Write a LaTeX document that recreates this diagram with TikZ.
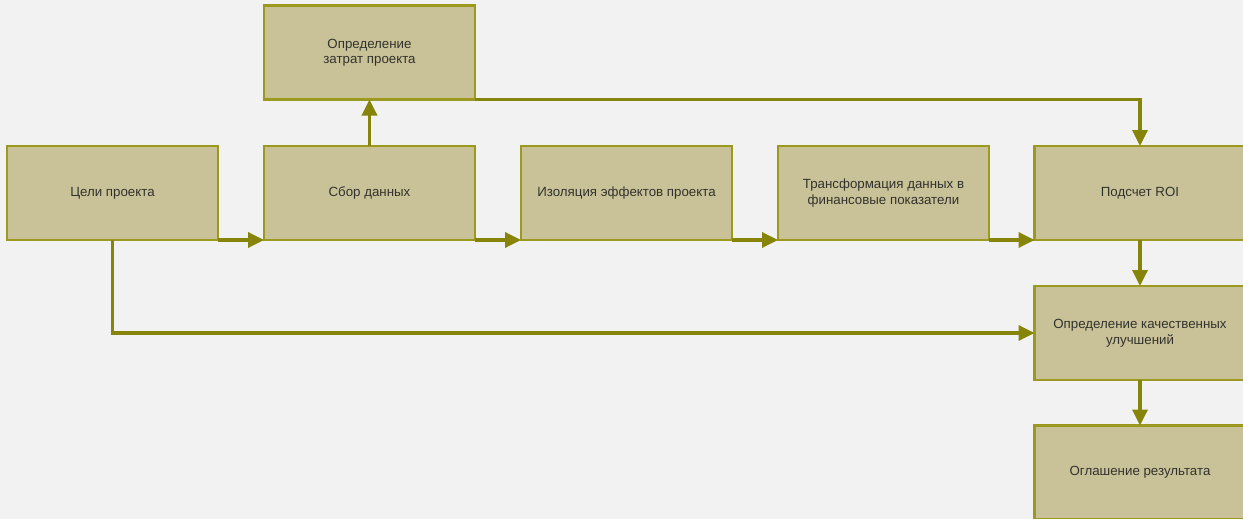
\documentclass[tikz,border=0pt]{standalone}
\usepackage{fontspec}
\setmainfont{Liberation Sans}
\usepackage{tikz}
\usetikzlibrary{arrows.meta}
\definecolor{boxfill}{RGB}{201,194,152}
\definecolor{boxline}{RGB}{155,153,30}
\definecolor{arrline}{RGB}{135,132,10}
\definecolor{bgcol}{RGB}{242,242,242}
\definecolor{txtcol}{RGB}{50,50,45}

\begin{document}
\begin{tikzpicture}[x=1pt,y=-1pt,
	stage/.style={draw=boxline,fill=boxfill,line width=2.8pt,minimum width=211pt,minimum height=94pt,outer sep=0pt,inner sep=2pt,align=center,text=txtcol,font=\fontsize{13.3}{15.5}\selectfont},
	flow/.style={draw=arrline,line width=3.4pt,-{Triangle[length=16pt,width=15pt]}}]
		%%Location
		\useasboundingbox (0,0) rectangle (1243,519);
		\fill[bgcol] (0,0) rectangle (1243,519);
		%%Boxes
		\node[stage] (goals) at (112.5,193) {Цели проекта};
		\node[stage] (collect) at (369.5,193) {Сбор данных};
		\node[stage] (costs) at (369.5,52.5) {Определение\\затрат проекта};
		\node[stage] (isolate) at (626.5,193) {Изоляция эффектов проекта};
		\node[stage] (convert) at (883.5,193) {Трансформация данных в\\финансовые показатели};
		\node[stage] (roi) at (1140,193) {Подсчет ROI};
		\node[stage] (quality) at (1140,333) {Определение качественных\\улучшений};
		\node[stage] (report) at (1140,472.5) {Оглашение результата};
		
		%%Arrows
		\draw[flow] (goals.south east) -- (collect.south west);
		\draw[flow] (collect.south east) -- (isolate.south west);
		\draw[flow] (isolate.south east) -- (convert.south west);
		\draw[flow] (convert.south east) -- (roi.south west);
		\draw[flow] (collect.north) -- (costs.south);
		\draw[flow] (costs.south east) -| (roi.north);
		\draw[flow] (goals.south) |- (quality.west);
		\draw[flow] (roi.south) -- (quality.north);
		\draw[flow] (quality.south) -- (report.north);
			\end{tikzpicture}
\end{document}
